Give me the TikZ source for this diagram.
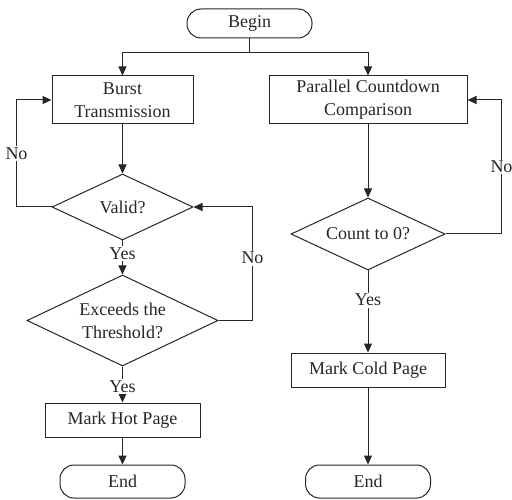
\documentclass[tikz,border=0pt]{standalone}
\usepackage{fontspec}
\setmainfont{Liberation Serif}
\usetikzlibrary{shapes.geometric,arrows.meta}
\definecolor{ink}{HTML}{262626}
\begin{document}
\begin{tikzpicture}[x=1pt,y=-1pt,
  every node/.style={font=\fontsize{18}{23}\selectfont, text=ink},
  base/.style={draw=ink, line width=1pt, inner sep=0pt, align=center},
  terminal/.style={base, rectangle, rounded corners=14pt},
  procbox/.style={base, rectangle},
  decision/.style={base, diamond, aspect=2.1},
  flow/.style={draw=ink, line width=1pt, -{Triangle[length=9pt,width=8pt]}},
  lbl/.style={fill=white, inner sep=1.5pt}
]
\useasboundingbox (0,0) rectangle (512,500);

% nodes
\node[terminal, minimum width=125pt, minimum height=29pt] (begin) at (249.5,23.5) {Begin};
\node[procbox, minimum width=141pt, minimum height=48pt] (burst) at (122.5,100) {Burst\\Transmission};
\node[procbox, minimum width=198pt, minimum height=48pt] (pcc) at (368,100) {Parallel Countdown\\Comparison};
\node[decision, minimum width=141pt, minimum height=66pt] (valid) at (122.5,207) {Valid?};
\node[decision, minimum width=191pt, minimum height=91pt] (exceeds) at (122.5,320.5) {Exceeds the\\Threshold?};
\node[procbox, minimum width=155pt, minimum height=34pt] (hot) at (122.5,420) {Mark Hot Page};
\node[terminal, minimum width=125pt, minimum height=33pt] (endL) at (122.5,481.5) {End};
\node[decision, minimum width=154pt, minimum height=72pt] (count) at (368,234) {Count to 0?};
\node[procbox, minimum width=154pt, minimum height=34pt] (cold) at (368,370) {Mark Cold Page};
\node[terminal, minimum width=125pt, minimum height=33pt] (endR) at (368,481.5) {End};

% connectors
\coordinate (split) at (249.5,53);
\draw[flow] (begin.south) -- (split) -| (burst.north);
\draw[flow] (split) -| (pcc.north);

\draw[flow] (burst) -- (valid);
\draw[flow] (valid.west) -- ++(-35,0) |- node[lbl, pos=0.25]{No} (burst.west);
\draw[flow] (valid.south) -- node[lbl, pos=0.38]{Yes} (exceeds.north);
\draw[flow] (exceeds.east) -- ++(34,0) |- node[lbl, pos=0.275]{No} (valid.east);
\draw[flow] (exceeds.south) -- node[lbl, pos=0.55]{Yes} (hot.north);
\draw[flow] (hot) -- (endL);

\draw[flow] (pcc) -- (count);
\draw[flow] (count.east) -- ++(56,0) |- node[lbl, pos=0.25]{No} (pcc.east);
\draw[flow] (count.south) -- node[lbl, pos=0.36]{Yes} (cold.north);
\draw[flow] (cold) -- (endR);
\end{tikzpicture}
\end{document}
